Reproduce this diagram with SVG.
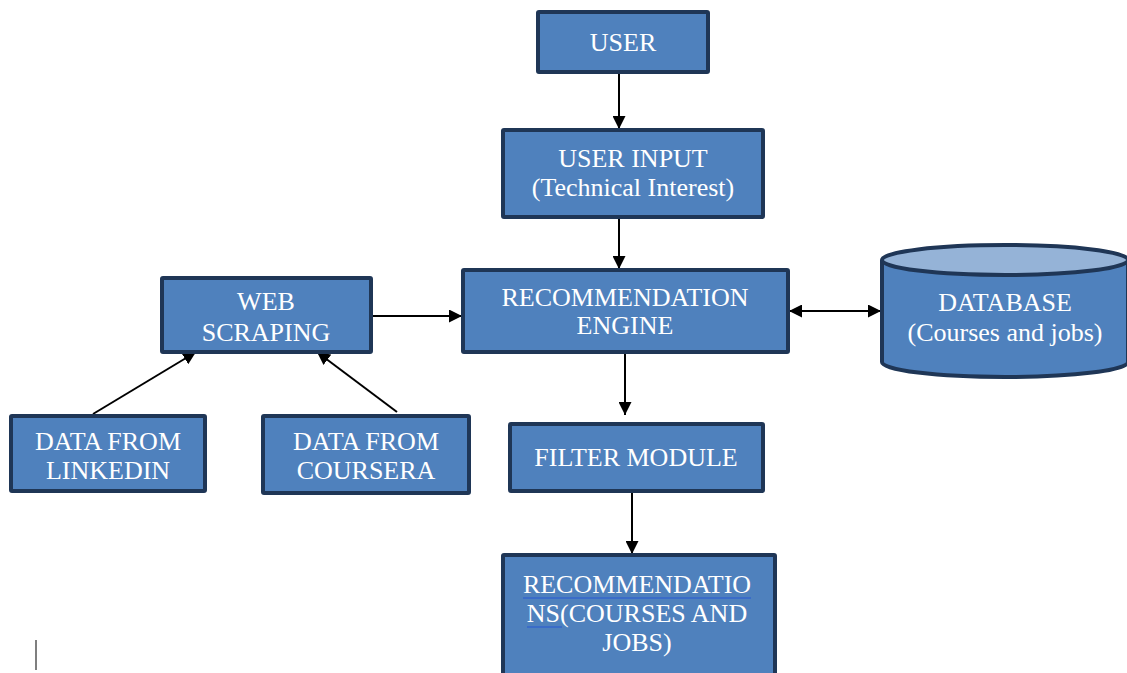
<svg xmlns="http://www.w3.org/2000/svg" width="1127" height="673" viewBox="0 0 1127 673">
<defs>
<style>
.box{fill:#4f81bd;stroke:#1f3656;stroke-width:4}
.t{font-family:"Liberation Serif","Times New Roman",serif;font-size:26px;fill:#fff;text-anchor:middle}
.c{stroke:#000;stroke-width:2;fill:none}
</style>
<marker id="a" viewBox="0 0 10 10" refX="10" refY="5" markerWidth="13" markerHeight="13" orient="auto-start-reverse" markerUnits="userSpaceOnUse">
<path d="M0,0 L10,5 L0,10 z" fill="#000"/>
</marker>
</defs>
<rect width="1127" height="673" fill="#fff"/>
<g id="connectors">
<line class="c" x1="619" y1="72" x2="619" y2="129" marker-end="url(#a)"/>
<line class="c" x1="619" y1="217" x2="619" y2="269" marker-end="url(#a)"/>
<line class="c" x1="371" y1="316" x2="462" y2="316" marker-end="url(#a)"/>
<line class="c" x1="789" y1="311" x2="881" y2="311" marker-start="url(#a)" marker-end="url(#a)"/>
<line class="c" x1="625" y1="352" x2="625" y2="415" marker-end="url(#a)"/>
<line class="c" x1="632" y1="491" x2="632" y2="554" marker-end="url(#a)"/>
<line class="c" x1="93" y1="414" x2="196" y2="352" marker-end="url(#a)"/>
<line class="c" x1="397" y1="412" x2="317" y2="352" marker-end="url(#a)"/>
</g>
<g id="user">
<rect class="box" x="538" y="12" width="170" height="60" rx="1"/>
<text class="t" x="623" y="51">USER</text>
</g>
<g id="user-input">
<rect class="box" x="503" y="130" width="260" height="87" rx="1"/>
<text class="t" x="633" y="167">USER INPUT</text>
<text class="t" x="633" y="196">(Technical Interest)</text>
</g>
<g id="engine">
<rect class="box" x="463" y="270" width="325" height="82" rx="1"/>
<text class="t" x="625" y="306">RECOMMENDATION</text>
<text class="t" x="625" y="334">ENGINE</text>
</g>
<g id="web-scraping">
<rect class="box" x="162" y="278" width="209" height="74" rx="1"/>
<text class="t" x="266" y="310">WEB</text>
<text class="t" x="266" y="341">SCRAPING</text>
</g>
<g id="linkedin">
<rect class="box" x="11" y="416" width="194" height="75" rx="1"/>
<text class="t" x="108" y="450">DATA FROM</text>
<text class="t" x="108" y="479">LINKEDIN</text>
</g>
<g id="coursera">
<rect class="box" x="263" y="416" width="206" height="77" rx="1"/>
<text class="t" x="366" y="450">DATA FROM</text>
<text class="t" x="366" y="479">COURSERA</text>
</g>
<g id="database">
<path class="box" d="M882,260 L882,362 A123,15 0 0 0 1128,362 L1128,260"/>
<ellipse cx="1005" cy="260" rx="123" ry="15" fill="#95b3d7" stroke="#1f3656" stroke-width="4"/>
<text class="t" x="1005" y="311">DATABASE</text>
<text class="t" x="1005" y="341">(Courses and jobs)</text>
</g>
<g id="filter">
<rect class="box" x="510" y="424" width="253" height="67" rx="1"/>
<text class="t" x="636" y="466">FILTER MODULE</text>
</g>
<g id="recommendations">
<rect class="box" x="503" y="555" width="272" height="122" rx="1"/>
<text class="t" x="637" y="593">RECOMMENDATIO</text>
<text class="t" x="637" y="622">NS(COURSES AND</text>
<text class="t" x="637" y="651">JOBS)</text>
<line x1="523" y1="598" x2="751" y2="598" stroke="#3366cc" stroke-width="1.5"/>
<line x1="527" y1="627" x2="562" y2="627" stroke="#3366cc" stroke-width="1.5"/>
</g>
<line x1="36" y1="640" x2="36" y2="670" stroke="#555" stroke-width="1.5"/>
</svg>
